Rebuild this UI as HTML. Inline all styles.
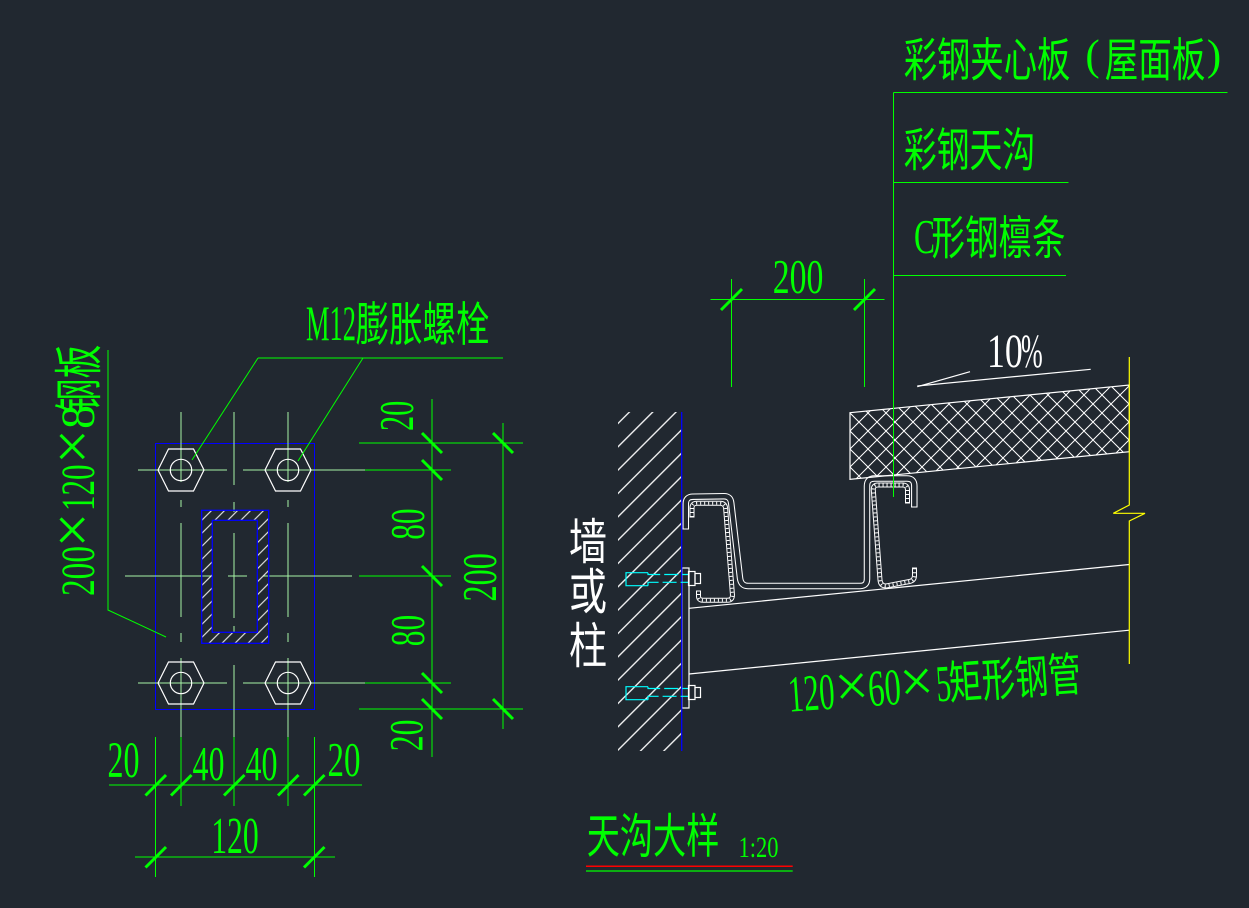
<!DOCTYPE html>
<html><head><meta charset="utf-8">
<style>
html,body{margin:0;padding:0;background:#212830;width:1249px;height:908px;overflow:hidden;}
svg{display:block;}
.lat{font-family:"Liberation Serif",serif;}
.sans{font-family:"Liberation Sans",sans-serif;}
.cjk{font-family:"Liberation Sans","Noto Sans CJK SC",sans-serif;}
</style></head><body>
<svg width="1249" height="908" viewBox="0 0 1249 908" xmlns="http://www.w3.org/2000/svg">
<defs>
  <pattern id="hw" width="16.5" height="16.5" patternUnits="userSpaceOnUse" patternTransform="rotate(45) translate(2.15,0)">
    <line x1="8.25" y1="0" x2="8.25" y2="16.5" stroke="#fff" stroke-width="1.3"/>
  </pattern>
  <pattern id="ht" width="9.2" height="9.2" patternUnits="userSpaceOnUse" patternTransform="rotate(45)">
    <line x1="4.6" y1="0" x2="4.6" y2="9.2" stroke="#fff" stroke-width="1"/>
  </pattern>
  <pattern id="hx" width="18" height="18" patternUnits="userSpaceOnUse" x="850" y="413">
    <path d="M0,0L18,18M18,0L0,18" stroke="#fff" stroke-width="1"/>
  </pattern>
  <clipPath id="cpTube"><path clip-rule="evenodd" d="M201.7,510.3H268.7V643.3H201.7Z M212.3,520.3V632.3H257.3V520.3Z"/></clipPath>
  <clipPath id="cpPanel"><polygon points="850,412.7 1129.3,385 1129.3,451.7 850,479.3"/></clipPath>
</defs>

<rect width="1249" height="908" fill="#212830"/>

<!-- ================= LEFT PLATE DETAIL ================= -->
<rect x="155.5" y="443.5" width="159" height="266" fill="none" stroke="#0000ff" stroke-width="1" shape-rendering="crispEdges"/>

<!-- pale centre lines -->
<g stroke="#a6f5a6" stroke-width="1" shape-rendering="crispEdges">
  <line x1="138" y1="470" x2="227" y2="470"/><line x1="243" y1="470" x2="365" y2="470"/>
  <line x1="138" y1="683" x2="227" y2="683"/><line x1="243" y1="683" x2="365" y2="683"/>
  <line x1="125" y1="576" x2="213" y2="576"/><line x1="228" y1="576" x2="247" y2="576"/><line x1="263" y1="576" x2="352" y2="576"/>
  <line x1="181" y1="412" x2="181" y2="482"/><line x1="181" y1="500" x2="181" y2="507"/><line x1="181" y1="523" x2="181" y2="617"/><line x1="181" y1="633" x2="181" y2="642"/><line x1="181" y1="658" x2="181" y2="737"/>
  <line x1="288" y1="412" x2="288" y2="482"/><line x1="288" y1="500" x2="288" y2="507"/><line x1="288" y1="523" x2="288" y2="617"/><line x1="288" y1="633" x2="288" y2="642"/><line x1="288" y1="658" x2="288" y2="737"/>
  <line x1="234" y1="412" x2="234" y2="485"/><line x1="234" y1="502" x2="234" y2="512"/><line x1="234" y1="533" x2="234" y2="618"/><line x1="234" y1="626" x2="234" y2="632"/><line x1="234" y1="665" x2="234" y2="737"/>
</g>

<!-- bolts -->
<g stroke="#fff" fill="none" stroke-width="1.2">
  <polygon points="158,470 168.5,449 193.5,449 204,470 193.5,491 168.5,491"/>
  <polygon points="265,470 275.5,449 300.5,449 311,470 300.5,491 275.5,491"/>
  <polygon points="158,683 168.5,662 193.5,662 204,683 193.5,704 168.5,704"/>
  <polygon points="265,683 275.5,662 300.5,662 311,683 300.5,704 275.5,704"/>
  <circle cx="181" cy="470" r="10.7"/><circle cx="288" cy="470" r="10.7"/>
  <circle cx="181" cy="683" r="10.7"/><circle cx="288" cy="683" r="10.7"/>
</g>

<!-- hollow tube section -->
<rect x="195" y="505" width="80" height="145" fill="url(#ht)" clip-path="url(#cpTube)"/>
<rect x="201.7" y="510.3" width="67" height="133" fill="none" stroke="#0000ff" stroke-width="1.3"/>
<rect x="212.3" y="520.3" width="45" height="112" fill="none" stroke="#0000ff" stroke-width="1.3"/>

<!-- green dimension / leader lines -->
<g stroke="#00ff00" stroke-width="1" fill="none">
  <g shape-rendering="crispEdges">
  <line x1="365" y1="470" x2="451" y2="470"/>
  <line x1="365" y1="683" x2="451" y2="683"/>
  <line x1="359" y1="576" x2="451" y2="576"/>
  <line x1="359" y1="443" x2="523" y2="443"/>
  <line x1="359" y1="709" x2="523" y2="709"/>
  <line x1="432" y1="399" x2="432" y2="757"/>
  <line x1="503" y1="423" x2="503" y2="729"/>
  <line x1="181" y1="737" x2="181" y2="806"/>
  <line x1="234" y1="737" x2="234" y2="806"/>
  <line x1="288" y1="737" x2="288" y2="806"/>
  <line x1="155.7" y1="737" x2="155.7" y2="877"/>
  <line x1="314.3" y1="737" x2="314.3" y2="877"/>
  <line x1="109" y1="785" x2="362" y2="785"/>
  <line x1="135" y1="857" x2="335" y2="857"/>
  <line x1="258" y1="358" x2="503" y2="358"/>
  </g>
  <polyline points="108,350 108,610 166,637"/>
  <line x1="258" y1="358" x2="192" y2="460"/>
  <line x1="363" y1="358" x2="298" y2="461"/>
</g>
<!-- ticks -->
<g stroke="#00ff00" stroke-width="3">
  <line x1="422" y1="433" x2="442" y2="453"/>
  <line x1="422" y1="460" x2="442" y2="480"/>
  <line x1="422" y1="566" x2="442" y2="586"/>
  <line x1="422" y1="673" x2="442" y2="693"/>
  <line x1="422" y1="699" x2="442" y2="719"/>
  <line x1="493" y1="433" x2="513" y2="453"/>
  <line x1="493" y1="699" x2="513" y2="719"/>
  <line x1="145.5" y1="795.5" x2="166" y2="775"/>
  <line x1="171" y1="795.5" x2="191.5" y2="775"/>
  <line x1="224" y1="795.5" x2="244.5" y2="775"/>
  <line x1="278" y1="795.5" x2="298.5" y2="775"/>
  <line x1="304" y1="795.5" x2="324.5" y2="775"/>
  <line x1="145.5" y1="867.5" x2="166" y2="847"/>
  <line x1="304" y1="867.5" x2="324.5" y2="847"/>
</g>

<!-- left texts -->
<g fill="#00ff00">
  <text class="lat" x="306" y="340" font-size="50" textLength="50" lengthAdjust="spacingAndGlyphs">M12</text>
  <text class="cjk" x="355.7" y="341.2" font-size="47" textLength="133.7" lengthAdjust="spacingAndGlyphs">膨胀螺栓</text>

  <g transform="translate(94,595) rotate(-90)">
    <text class="lat" x="-1" y="0" font-size="47.3" textLength="50" lengthAdjust="spacingAndGlyphs">200</text>
    <text class="lat" x="65" y="-1.2" font-size="62" text-anchor="middle">×</text>
    <text class="lat" x="84" y="0" font-size="47.3" textLength="46.5" lengthAdjust="spacingAndGlyphs">120</text>
    <text class="lat" x="148.5" y="-1.2" font-size="62" text-anchor="middle">×</text>
    <text class="lat" x="166" y="0" font-size="47.3" textLength="24" lengthAdjust="spacingAndGlyphs">8</text>
    <text class="cjk" x="182.6" y="2.1" font-size="49" textLength="67.7" lengthAdjust="spacingAndGlyphs">钢板</text>
  </g>

  <g transform="translate(413,430.5) rotate(-90)"><text class="lat" x="-0.5" y="0" font-size="48.8" textLength="30.3" lengthAdjust="spacingAndGlyphs">20</text></g>
  <g transform="translate(424,539.3) rotate(-90)"><text class="lat" x="-0.5" y="0" font-size="48.8" textLength="31.3" lengthAdjust="spacingAndGlyphs">80</text></g>
  <g transform="translate(424,645.7) rotate(-90)"><text class="lat" x="-0.5" y="0" font-size="48.8" textLength="31.3" lengthAdjust="spacingAndGlyphs">80</text></g>
  <g transform="translate(496,600.7) rotate(-90)"><text class="lat" x="-0.8" y="0" font-size="48.4" textLength="48.3" lengthAdjust="spacingAndGlyphs">200</text></g>
  <g transform="translate(422.7,750.7) rotate(-90)"><text class="lat" x="-0.5" y="0" font-size="48" textLength="31.7" lengthAdjust="spacingAndGlyphs">20</text></g>

  <text class="lat" x="107.5" y="777" font-size="50.3" textLength="32" lengthAdjust="spacingAndGlyphs">20</text>
  <text class="lat" x="192.5" y="780" font-size="48.8" textLength="32" lengthAdjust="spacingAndGlyphs">40</text>
  <text class="lat" x="245.5" y="780" font-size="48.8" textLength="32" lengthAdjust="spacingAndGlyphs">40</text>
  <text class="lat" x="327.5" y="776" font-size="48.8" textLength="33" lengthAdjust="spacingAndGlyphs">20</text>
  <text class="lat" x="211.2" y="853" font-size="51.8" textLength="47.6" lengthAdjust="spacingAndGlyphs">120</text>
</g>

<!-- ================= RIGHT GUTTER DETAIL ================= -->
<!-- wall hatch -->
<rect x="618" y="412" width="64" height="339" fill="url(#hw)"/>

<!-- tube -->
<g stroke="#fff" stroke-width="1.2" fill="none">
  <line x1="689" y1="608.3" x2="1129.3" y2="564.5"/>
  <line x1="689" y1="674" x2="1129.3" y2="630.2"/>
  <rect x="682" y="568" width="7" height="140"/>
</g>
<line x1="681.7" y1="412" x2="681.7" y2="751" stroke="#0000ff" stroke-width="1.3"/>

<!-- bolts -->
<g fill="none" stroke-width="1.2">
  <g stroke="#00ffff">
    <polyline points="648,572.7 626,572.7 626,585.7 648,585.7"/>
    <polyline points="648,572.7 648,574.5 688,574.5" stroke-dasharray="14,4"/>
    <polyline points="648,585.7 648,582.3 688,582.3" stroke-dasharray="14,4"/>
    <polyline points="648,686.7 626,686.7 626,699.7 648,699.7"/>
    <polyline points="648,686.7 648,688.5 688,688.5" stroke-dasharray="14,4"/>
    <polyline points="648,699.7 648,696.3 688,696.3" stroke-dasharray="14,4"/>
  </g>
  <g stroke="#fff">
    <rect x="688.5" y="571.5" width="6.5" height="14"/>
    <rect x="695" y="573.5" width="5.5" height="10"/>
    <rect x="688.5" y="685.5" width="6.5" height="14"/>
    <rect x="695" y="687.5" width="5.5" height="10"/>
  </g>
</g>

<!-- gutter (double line) -->
<g fill="none" stroke-linejoin="round">
  <path d="M685.8,529 L685.8,504 Q685.8,496.7 693,496.7 L724,496.2 Q730.5,496.2 731.2,503 L740,578 Q741,586 748,586 L860,586 Q867,586 867,579 L867,486 Q867,478.5 874.5,478.5 L907,478.5 Q914.3,478.5 914.3,486 L914.3,507" stroke="#fff" stroke-width="6.5"/>
  <path d="M685.8,529 L685.8,504 Q685.8,496.7 693,496.7 L724,496.2 Q730.5,496.2 731.2,503 L740,578 Q741,586 748,586 L860,586 Q867,586 867,579 L867,486 Q867,478.5 874.5,478.5 L907,478.5 Q914.3,478.5 914.3,486 L914.3,507" stroke="#212830" stroke-width="4.4"/>
  <!-- purlins -->
  <path d="M692,517 L692,508 Q692,503.3 697,503.3 L720,503.3 Q725,503.3 725.6,508 L732.4,594 Q733,600.3 727,600.3 L703,600.3 Q698.5,600.3 698.5,596 L698.5,591" stroke="#fff" stroke-width="5"/>
  <path d="M692,517 L692,508 Q692,503.3 697,503.3 L720,503.3 Q725,503.3 725.6,508 L732.4,594 Q733,600.3 727,600.3 L703,600.3 Q698.5,600.3 698.5,596 L698.5,591" stroke="#212830" stroke-width="3"/>
  <path d="M692,517 L692,508 Q692,503.3 697,503.3 L720,503.3 Q725,503.3 725.6,508 L732.4,594 Q733,600.3 727,600.3 L703,600.3 Q698.5,600.3 698.5,596 L698.5,591" stroke="#fff" stroke-width="3" stroke-dasharray="1,3"/>
  <path d="M907.5,503 L907.5,490 Q907.5,485 902.5,485 L878,485 Q873,485 873.3,490 L880,580 Q880.5,586 886,586 L909.5,581.5 Q914.5,580.5 914.5,575.5 L914.5,568" stroke="#fff" stroke-width="5"/>
  <path d="M907.5,503 L907.5,490 Q907.5,485 902.5,485 L878,485 Q873,485 873.3,490 L880,580 Q880.5,586 886,586 L909.5,581.5 Q914.5,580.5 914.5,575.5 L914.5,568" stroke="#212830" stroke-width="3"/>
  <path d="M907.5,503 L907.5,490 Q907.5,485 902.5,485 L878,485 Q873,485 873.3,490 L880,580 Q880.5,586 886,586 L909.5,581.5 Q914.5,580.5 914.5,575.5 L914.5,568" stroke="#fff" stroke-width="3" stroke-dasharray="1,3"/>
  <g stroke="#fff" stroke-width="1">
    <line x1="682.5" y1="529" x2="689" y2="529"/>
    <line x1="911" y1="507" x2="917.5" y2="507"/>
    <line x1="689.5" y1="517" x2="694.5" y2="517"/>
    <line x1="696" y1="591" x2="701" y2="591"/>
    <line x1="905" y1="503" x2="910" y2="503"/>
    <line x1="912" y1="568" x2="917" y2="568"/>
  </g>
</g>

<!-- sandwich panel -->
<rect x="850" y="380" width="282" height="102" fill="url(#hx)" clip-path="url(#cpPanel)"/>
<polygon points="850,412.7 1129.3,385 1129.3,451.7 850,479.3" fill="none" stroke="#fff" stroke-width="1.2"/>

<!-- slope arrow -->
<g stroke="#fff" stroke-width="1.2">
  <line x1="917.3" y1="386.7" x2="970" y2="371.7"/>
  <line x1="917.3" y1="386" x2="1090.7" y2="369.3"/>
</g>

<!-- yellow break line -->
<polyline points="1129.3,357 1129.3,505 1113.3,513.3 1145,513.3 1129.3,521 1129.3,664" fill="none" stroke="#ffff00" stroke-width="1.2"/>

<!-- green leaders right -->
<g stroke="#00ff00" stroke-width="1" fill="none">
  <g shape-rendering="crispEdges">
  <line x1="893.6" y1="92.3" x2="1227.7" y2="92.3"/>
  <line x1="893.6" y1="182.3" x2="1068.7" y2="182.3"/>
  <line x1="893.6" y1="275.3" x2="1066" y2="275.3"/>
  <line x1="893.6" y1="92.3" x2="893.6" y2="497"/>
  <line x1="710.5" y1="299.3" x2="884.5" y2="299.3"/>
  <line x1="731.5" y1="279" x2="731.5" y2="387"/>
  <line x1="864.6" y1="279" x2="864.6" y2="387"/>
  </g>
</g>
<g stroke="#00ff00" stroke-width="3">
  <line x1="721" y1="310" x2="742" y2="289"/>
  <line x1="854" y1="310" x2="875" y2="289"/>
</g>

<!-- title lines -->
<line x1="586" y1="866.3" x2="792.7" y2="866.3" stroke="#ff0000" stroke-width="1.5"/>
<line x1="586" y1="871" x2="792.7" y2="871" stroke="#00ff00" stroke-width="1.2"/>

<!-- right texts -->
<g fill="#00ff00">
  <text class="cjk" x="903.7" y="76.3" font-size="46.7" textLength="166.7" lengthAdjust="spacingAndGlyphs">彩钢夹心板</text>
  <text class="lat" x="1092.5" y="69.3" font-size="43" text-anchor="middle">(</text>
  <text class="cjk" x="1104.7" y="76.3" font-size="46.7" textLength="100.7" lengthAdjust="spacingAndGlyphs">屋面板</text>
  <text class="lat" x="1214" y="69.3" font-size="43" text-anchor="middle">)</text>

  <text class="cjk" x="903.7" y="166.3" font-size="46.7" textLength="131.6" lengthAdjust="spacingAndGlyphs">彩钢天沟</text>

  <text class="lat" x="914" y="253" font-size="48.8" textLength="21" lengthAdjust="spacingAndGlyphs">C</text>
  <text class="cjk" x="931.5" y="254.3" font-size="46.7" textLength="134" lengthAdjust="spacingAndGlyphs">形钢檩条</text>

  <text class="lat" x="772.7" y="293" font-size="48.8" textLength="50.7" lengthAdjust="spacingAndGlyphs">200</text>

  <g transform="translate(790,711.7) rotate(-4)">
    <text class="lat" x="-0.7" y="0" font-size="51.8" textLength="46.5" lengthAdjust="spacingAndGlyphs">120</text>
    <text class="lat" x="63.3" y="-1.5" font-size="60" text-anchor="middle">×</text>
    <text class="lat" x="79.5" y="0" font-size="51.8" textLength="32.8" lengthAdjust="spacingAndGlyphs">60</text>
    <text class="lat" x="128.3" y="-1.5" font-size="60" text-anchor="middle">×</text>
    <text class="lat" x="147.6" y="0" font-size="51.8" textLength="14.9" lengthAdjust="spacingAndGlyphs">5</text>
    <text class="cjk" x="160.4" y="-1" font-size="46.5" textLength="132.6" lengthAdjust="spacingAndGlyphs">矩形钢管</text>
  </g>

  <text class="cjk" x="586.7" y="853.2" font-size="47.8" textLength="132.7" lengthAdjust="spacingAndGlyphs">天沟大样</text>
  <text class="lat" x="738.5" y="857" font-size="29.6" textLength="40" lengthAdjust="spacingAndGlyphs">1:20</text>
</g>

<g fill="#ffffff">
  <text class="lat" x="987" y="367" font-size="47.3" textLength="35.8" lengthAdjust="spacingAndGlyphs">10</text>
  <text class="lat" x="1021" y="367" font-size="47.3" textLength="21.7" lengthAdjust="spacingAndGlyphs">%</text>
  <text class="cjk" x="568.9" y="559.1" font-size="49" textLength="38.2" lengthAdjust="spacingAndGlyphs">墙</text>
  <text class="cjk" x="568.9" y="609" font-size="49" textLength="38.2" lengthAdjust="spacingAndGlyphs">或</text>
  <text class="cjk" x="568.9" y="663" font-size="49" textLength="38.2" lengthAdjust="spacingAndGlyphs">柱</text>
</g>
</svg>
</body></html>
